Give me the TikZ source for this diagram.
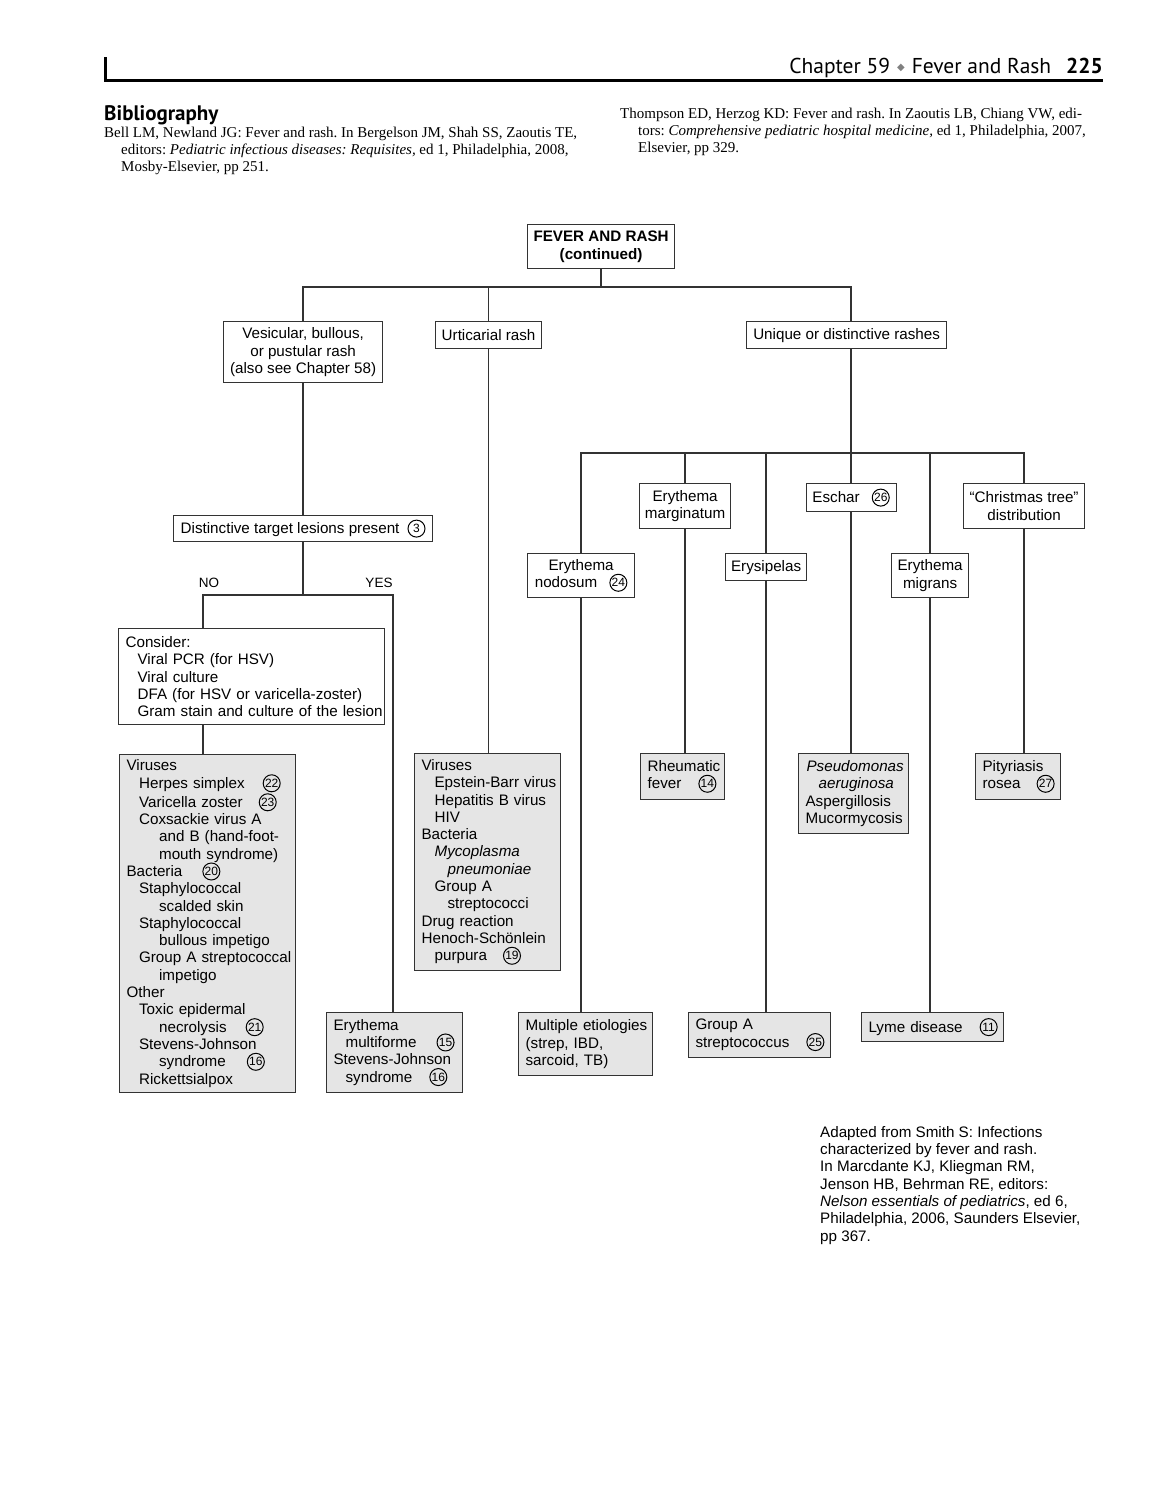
\documentclass[tikz,border=0pt]{standalone}
\usepackage{fontspec}
\setmainfont{Liberation Sans}
\newfontfamily\biblfont{Liberation Serif}
\newfontfamily\headfont{PT Sans}
\newfontfamily\symfont{DejaVu Sans}

\definecolor{linegray}{gray}{0.2}
\definecolor{fillgray}{gray}{0.9}

\tikzset{
  cnumstyle/.style={circle, draw=black, fill=none, line width=1pt, inner sep=0pt,
    minimum size=17pt, text width={}, align=center, anchor=center, text=black,
    font=\fontsize{12}{12}\selectfont},
  box/.style={draw=linegray, line width=1.2pt, inner xsep=7pt, inner ysep=3pt,
    anchor=north west, align=left, font=\fontsize{15.2}{17.3}\selectfont},
  cbox/.style={box, inner xsep=2pt, align=center},
  gbox/.style={box, fill=fillgray},
  link/.style={draw=linegray, line width=1.6pt},
  lab/.style={inner sep=0pt, font=\fontsize{13.5}{15}\selectfont},
  bib/.style={inner sep=0pt, anchor=north west, align=left, font=\biblfont\fontsize{15}{17}\selectfont},
}

\newcommand{\cnum}[1]{\tikz[baseline={([yshift=-5pt]cn.center)}]\node[cnumstyle] (cn) {#1};}
\newcommand{\cn}[2]{\nobreak\hspace{#1}\cnum{#2}}

\begin{document}
\frenchspacing
\begin{tikzpicture}[x=1pt, y=-1pt]
  \fill[white] (0,0) rectangle (1172,1500);
  \useasboundingbox (0,0) rectangle (1172,1500);

  % page head and bibliography
  \draw[line width=3pt] (105.5,57) |- (1103,80.5);
  \node[anchor=base east, inner sep=0pt, font=\headfont\fontsize{21.5}{24}\selectfont] (head) at (1103,73)
    {Chapter 59\hspace{7pt}{\symfont\fontsize{10}{10}\selectfont\color{gray}\raisebox{2.5pt}{◆}}\hspace{7pt}Fever and Rash\hspace{15pt}\textbf{225}};
  \node[anchor=base west, inner sep=0pt, font=\headfont\bfseries\fontsize{21}{24}\selectfont] (bibhead) at (104,120) {Bibliography};
  \node[bib] (bell) at (104,127)
    {Bell LM, Newland JG: Fever and rash. In Bergelson JM, Shah SS, Zaoutis TE,\\
     \hspace*{17pt}editors: \textit{Pediatric infectious diseases: Requisites,} ed 1, Philadelphia, 2008,\\
     \hspace*{17pt}Mosby-Elsevier, pp 251.};
  \node[bib] (thompson) at (620,108)
    {Thompson ED, Herzog KD: Fever and rash. In Zaoutis LB, Chiang VW, edi-\\
     \hspace*{18pt}tors: \textit{Comprehensive pediatric hospital medicine,} ed 1, Philadelphia, 2007,\\
     \hspace*{18pt}Elsevier, pp 329.};

  % upper levels
  \node[cbox, minimum width=147pt, minimum height=44pt, font=\bfseries\fontsize{15.2}{17.8}\selectfont] (root) at (527,224)
    {FEVER AND RASH\\(continued)};
  \node[cbox, minimum width=159pt, minimum height=61pt, inner ysep=5pt] (ves) at (223,321)
    {Vesicular, bullous,\\or pustular rash\\(also see Chapter 58)};
  \node[cbox, minimum width=106pt, minimum height=27pt] (urt) at (435,321) {Urticarial rash};
  \node[cbox, minimum width=200pt, minimum height=27pt] (uniq) at (746,321) {Unique or distinctive rashes};
  \node[cbox, minimum width=259pt, minimum height=26pt] (target) at (173,515)
    {Distinctive target lesions present\cn{8pt}{3}};
  \node[box, text width=252pt, minimum height=96pt] (consider) at (118,628)
    {Consider:\\
     \hspace*{12pt}Viral PCR (for HSV)\\
     \hspace*{12pt}Viral culture\\
     \hspace*{12pt}DFA (for HSV or varicella-zoster)\\
     \hspace*{12pt}\mbox{Gram stain and culture of the lesion}};

  \node[cbox, minimum width=91pt, minimum height=45pt] (marg) at (639,483) {Erythema\\marginatum};
  \node[cbox, minimum width=90pt, minimum height=28pt] (eschar) at (805.5,483) {Eschar\cn{12pt}{26}};
  \node[cbox, minimum width=121pt, minimum height=45pt] (xmas) at (963,483) {“Christmas tree”\\distribution};
  \node[cbox, minimum width=107pt, minimum height=44pt] (nodo) at (527,553) {Erythema\\nodosum\cn{12pt}{24}};
  \node[cbox, minimum width=81pt, minimum height=27pt] (erys) at (725,553) {Erysipelas};
  \node[cbox, minimum width=77pt, minimum height=44pt] (migr) at (891,553) {Erythema\\migrans};

  % end boxes
  \node[gbox, text width=162pt, minimum height=338pt] (vsb) at (119,754)
    {Viruses\\
     \hspace*{12.5pt}Herpes simplex\cn{18pt}{22}\\
     \hspace*{12.5pt}Varicella zoster\cn{16pt}{23}\\
     \hspace*{12.5pt}Coxsackie virus A\\
     \hspace*{32.5pt}and B (hand-foot-\\
     \hspace*{32.5pt}mouth syndrome)\\
     Bacteria\cn{20pt}{20}\\
     \hspace*{12.5pt}Staphylococcal\\
     \hspace*{32.5pt}scalded skin\\
     \hspace*{12.5pt}Staphylococcal\\
     \hspace*{32.5pt}bullous impetigo\\
     \hspace*{12.5pt}\mbox{Group A streptococcal}\\
     \hspace*{32.5pt}impetigo\\
     Other\\
     \hspace*{12.5pt}Toxic epidermal\\
     \hspace*{32.5pt}necrolysis\cn{19pt}{21}\\
     \hspace*{12.5pt}Stevens-Johnson\\
     \hspace*{32.5pt}syndrome\cn{21pt}{16}\\
     \hspace*{12.5pt}Rickettsialpox};
  \node[gbox, text width=122pt, minimum height=80pt] (em) at (326,1012)
    {Erythema\\
     \hspace*{12pt}multiforme\cn{20pt}{15}\\
     Stevens-Johnson\\
     \hspace*{12pt}syndrome\cn{17pt}{16}};
  \node[gbox, text width=132pt, minimum height=217pt] (viru) at (414,753)
    {Viruses\\
     \hspace*{13pt}\mbox{Epstein-Barr virus}\\
     \hspace*{13pt}Hepatitis B virus\\
     \hspace*{13pt}HIV\\
     Bacteria\\
     \hspace*{13pt}\textit{Mycoplasma}\\
     \hspace*{26pt}\textit{pneumoniae}\\
     \hspace*{13pt}Group A\\
     \hspace*{26pt}streptococci\\
     Drug reaction\\
     Henoch-Schönlein\\
     \hspace*{13pt}purpura\cn{16pt}{19}};
  \node[gbox, text width=120pt, minimum height=63pt] (multi) at (518,1012)
    {\mbox{Multiple etiologies}\\(strep, IBD,\\sarcoid, TB)};
  \node[gbox, text width=70pt, minimum height=46pt] (rheum) at (640,753)
    {Rheumatic\\fever\cn{17pt}{14}};
  \node[gbox, text width=128pt, minimum height=45pt] (grpa) at (688,1012)
    {Group A\\streptococcus\cn{17pt}{25}};
  \node[gbox, text width=96pt, minimum height=80pt] (pseudo) at (798,753)
    {\hspace*{1pt}\mbox{\textit{Pseudomonas}}\\
     \hspace*{13pt}\textit{aeruginosa}\\
     Aspergillosis\\
     \mbox{Mucormycosis}};
  \node[gbox, text width=128pt, minimum height=29pt] (lyme) at (861,1012)
    {\mbox{Lyme disease\cn{17pt}{11}}};
  \node[gbox, text width=71pt, minimum height=46pt] (pity) at (975,753)
    {Pityriasis\\\mbox{rosea\cn{16pt}{27}}};

  % connectors
  \coordinate (topbus) at (600.5,287);
  \coordinate (ubus) at (851.1,453);
  \coordinate (nofork) at (203.1,595);
  \coordinate (yesfork) at (393.1,595);
  \draw[link] (root.south) -- (root.south |- topbus);
  \draw[link] (ves.north) |- (topbus) -| (ubus |- uniq.north);
  \draw[link] (urt.north) -- (urt.north |- topbus);

  \draw[link] (ves.south) -- (ves.south |- target.north);
  \draw[link] (target.south) -- (target.south |- nofork);
  \draw[link] (nofork |- consider.north) -- (nofork) -- (yesfork) -- (yesfork |- em.north);
  \draw[link] (nofork |- consider.south) -- (nofork |- vsb.north);
  \node[lab] (no) at (209,583) {NO};
  \node[lab] (yes) at (379,583) {YES};

  \draw[link] (urt.south) -- (urt.south |- viru.north);

  \draw[link] (ubus |- uniq.south) -- (ubus);
  \draw[link] (nodo.north) |- (ubus) -| (xmas.north);
  \draw[link] (marg.north) -- (marg.north |- ubus);
  \draw[link] (erys.north) -- (erys.north |- ubus);
  \draw[link] (eschar.north) -- (eschar.north |- ubus);
  \draw[link] (migr.north) -- (migr.north |- ubus);

  \draw[link] (nodo.south) -- (nodo.south |- multi.north);
  \draw[link] (marg.south) -- (marg.south |- rheum.north);
  \draw[link] (erys.south) -- (erys.south |- grpa.north);
  \draw[link] (eschar.south) -- (eschar.south |- pseudo.north);
  \draw[link] (migr.south) -- (migr.south |- lyme.north);
  \draw[link] (xmas.south) -- (xmas.south |- pity.north);

  % source note
  \node[anchor=north west, inner sep=0pt, align=left, font=\fontsize{15.2}{17.3}\selectfont] (source) at (820,1126)
    {Adapted from Smith S: Infections\\
     characterized by fever and rash.\\
     In Marcdante KJ, Kliegman RM,\\
     Jenson HB, Behrman RE, editors:\\
     \textit{Nelson essentials of pediatrics}, ed 6,\\
     Philadelphia, 2006, Saunders Elsevier,\\
     pp 367.};
\end{tikzpicture}
\end{document}
